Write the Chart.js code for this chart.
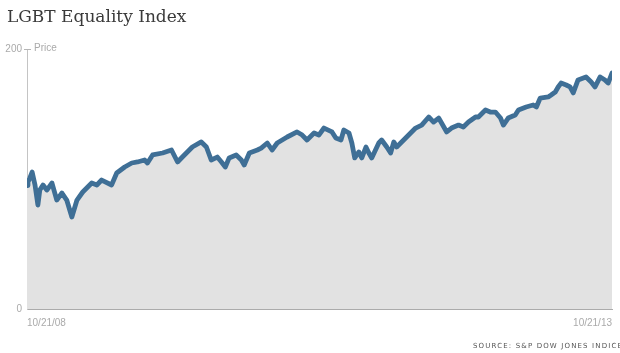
<!DOCTYPE html>
<html>
<head>
<meta charset="utf-8">
<script src="https://cdn.jsdelivr.net/npm/chart.js@4"></script>
<style>
  html, body { margin: 0; padding: 0; background: #fff; width: 620px; height: 353px; overflow: hidden; }
  #wrap { position: relative; width: 620px; height: 353px; overflow: hidden; }
  #title { position: absolute; left: 7px; top: 8px; font-family: "DejaVu Serif", "Liberation Serif", serif; font-size: 17px; line-height: 17px; color: #3a3a3a; white-space: nowrap; }
  #source { position: absolute; left: 473px; top: 342px; font-family: "DejaVu Sans", sans-serif; font-size: 7px; letter-spacing: 1.15px; color: #555; white-space: nowrap; }
  canvas { position: absolute; left: 0; top: 0; }
</style>
</head>
<body>
<div id="wrap">
  <canvas id="c" width="620" height="353"></canvas>
  <div id="title">LGBT Equality Index</div>
  <div id="source">SOURCE: S&amp;P DOW JONES INDICES</div>
</div>
<script>
// Days since 10/21/08 (5 years = 1826 days)
const days = [0,3,9,16,25,34,40,50,62,78,93,109,124,140,156,174,202,218,233,264,280,305,327,345,367,376,392,423,451,470,485,516,544,560,575,594,607,619,631,653,669,678,694,719,731,750,765,781,812,843,859,874,896,911,927,952,964,980,989,1005,1014,1023,1036,1045,1058,1067,1076,1098,1107,1123,1135,1145,1154,1182,1213,1232,1254,1269,1285,1294,1310,1325,1347,1362,1378,1400,1409,1431,1446,1462,1478,1487,1502,1524,1534,1558,1580,1590,1602,1627,1636,1649,1658,1667,1683,1695,1705,1720,1745,1761,1773,1789,1804,1814,1826];
const prices = [95,97.7,100.8,105.4,95.4,80,91.5,95.4,91.5,96.9,83.8,89.2,83.8,70.8,83.8,90,96.9,95.4,99.2,95.4,104.6,109.2,112.3,113.1,114.6,112.3,118.5,120,122.3,113.1,116.9,124.6,128.5,124.6,114.6,116.9,113.1,109.2,116.2,118.5,114.6,110.8,120,122.3,123.8,127.7,122.3,127.7,132.3,136.2,133.8,130,135.4,133.8,139.2,136.2,131.5,130,137.7,135.4,127.7,116.2,120.8,116.2,124.6,120,116.2,127.7,130,124.6,120,128.5,124.6,131.5,139.2,141.5,147.7,143.8,146.9,143.1,136.2,139.2,141.5,140,143.8,147.7,147.7,153.1,151.5,151.5,146.9,141.5,146.9,149.2,153.1,155.4,156.9,155.4,162.3,163.1,164.6,166.9,170.8,173.8,172.3,170.8,166.2,176.2,178.5,174.6,170.8,178.5,176.2,173.8,181.5];
const xTickDays = [0, 1826];
const xTickLabels = ["10/21/08", "10/21/13"];
const yTicks = [0, 200];
const yAxisLabel = "Price";

const points = days.map((d, i) => ({ x: d, y: prices[i] }));
const tickFont = { family: '"Liberation Sans", Arial, sans-serif', size: 10 };

const priceLabel = {
  id: 'priceLabel',
  afterDraw(chart) {
    const ctx = chart.ctx;
    const ys = chart.scales.y;
    const xa = chart.chartArea;
    const y200 = ys.getPixelForValue(200);
    ctx.save();
    ctx.strokeStyle = '#b5b5b5';
    ctx.lineWidth = 1;
    ctx.beginPath();
    ctx.moveTo(xa.left - 3, Math.round(y200) + 0.5);
    ctx.lineTo(xa.left + 4, Math.round(y200) + 0.5);
    ctx.stroke();
    ctx.fillStyle = '#aaaaaa';
    ctx.font = '10px ' + tickFont.family;
    ctx.textBaseline = 'middle';
    ctx.fillText(yAxisLabel, xa.left + 7, y200 - 1);
    ctx.restore();
  }
};

new Chart(document.getElementById('c'), {
  type: 'line',
  data: {
    datasets: [{
      data: points,
      borderColor: '#3f6f96',
      borderWidth: 4.8,
      backgroundColor: '#e2e2e2',
      fill: 'origin',
      pointRadius: 0,
      tension: 0,
      borderJoinStyle: 'round',
      borderCapStyle: 'round'
    }]
  },
  options: {
    responsive: false,
    animation: false,
    layout: { padding: { top: 49, right: 6, left: 0, bottom: 0 } },
    plugins: { legend: { display: false }, tooltip: { enabled: false }, title: { display: false } },
    scales: {
      x: {
        type: 'linear',
        min: 0, max: 1826,
        afterBuildTicks: (s) => { s.ticks = xTickDays.map(v => ({ value: v })); },
        afterFit: (s) => { s.height = 44; },
        grid: { display: false, drawTicks: false },
        border: { display: true, color: '#ababab', width: 1 },
        ticks: {
          align: 'inner',
          padding: 8,
          maxRotation: 0,
          color: '#aaaaaa',
          font: tickFont,
          callback: (v) => { const i = xTickDays.indexOf(v); return i >= 0 ? xTickLabels[i] : ''; }
        }
      },
      y: {
        min: 0, max: 200,
        afterBuildTicks: (s) => { s.ticks = yTicks.map(v => ({ value: v })); },
        afterFit: (s) => { s.width = 27; },
        grid: { display: false, drawTicks: false },
        border: { display: true, color: '#c4c4c4', width: 1 },
        ticks: { padding: 5, color: '#aaaaaa', font: tickFont }
      }
    }
  },
  plugins: [priceLabel]
});
</script>
</body>
</html>
